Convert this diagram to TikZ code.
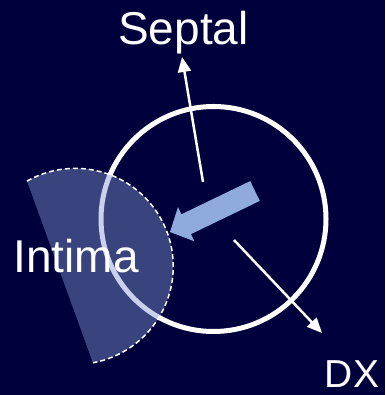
\documentclass[tikz,border=0pt]{standalone}
\usepackage{fontspec}
\setmainfont{Liberation Sans}
\usetikzlibrary{arrows.meta}
\definecolor{bgnavy}{RGB}{0,0,60}
\definecolor{sectfill}{RGB}{131,153,212}
\definecolor{bigarrow}{RGB}{143,170,220}
\tikzset{
  lbl/.style={text=white, font=\fontsize{46}{50}\selectfont, inner sep=0pt, anchor=base},
  thinarrow/.style={draw=white, line width=2.5pt, -{Triangle[length=15pt,width=13pt]}},
}
\begin{document}
\begin{tikzpicture}[x=1pt,y=1pt]
\fill[bgnavy] (0,0) rectangle (385,395);
\useasboundingbox (0,0) rectangle (385,395);
% main circle
\draw[white, line width=5pt] (213.5,176) circle[radius=112.5];
% intima segment
\fill[sectfill, fill opacity=0.44] (27,213.9) arc[start angle=119.5, end angle=-79.6, radius=98] -- cycle;
\draw[white, line width=1.5pt, dash pattern=on 5pt off 3pt] (27,213.9) arc[start angle=119.5, end angle=-79.6, radius=98];
% thick arrow
\fill[bigarrow] (250.2,213.9) -- (181.4,180.7) -- (178,187.9) -- (170,163) -- (194.4,153.7) -- (191,160.9) -- (259.8,194.1) -- cycle;
% thin arrows
\coordinate (sepA) at (203,213);
\coordinate (sepB) at (182,338);
\coordinate (dxA) at (234,155);
\coordinate (dxB) at (322,62);
\draw[thinarrow] (sepA) -- (sepB);
\draw[thinarrow] (dxA) -- (dxB);
% labels
\node[lbl] (septal) at (183.5,350) {Septal};
\node[lbl] (intima) at (76,122) {Intima};
\node[lbl, font=\fontsize{39}{42}\selectfont] (dx) at (352,7) {DX};
\end{tikzpicture}
\end{document}
